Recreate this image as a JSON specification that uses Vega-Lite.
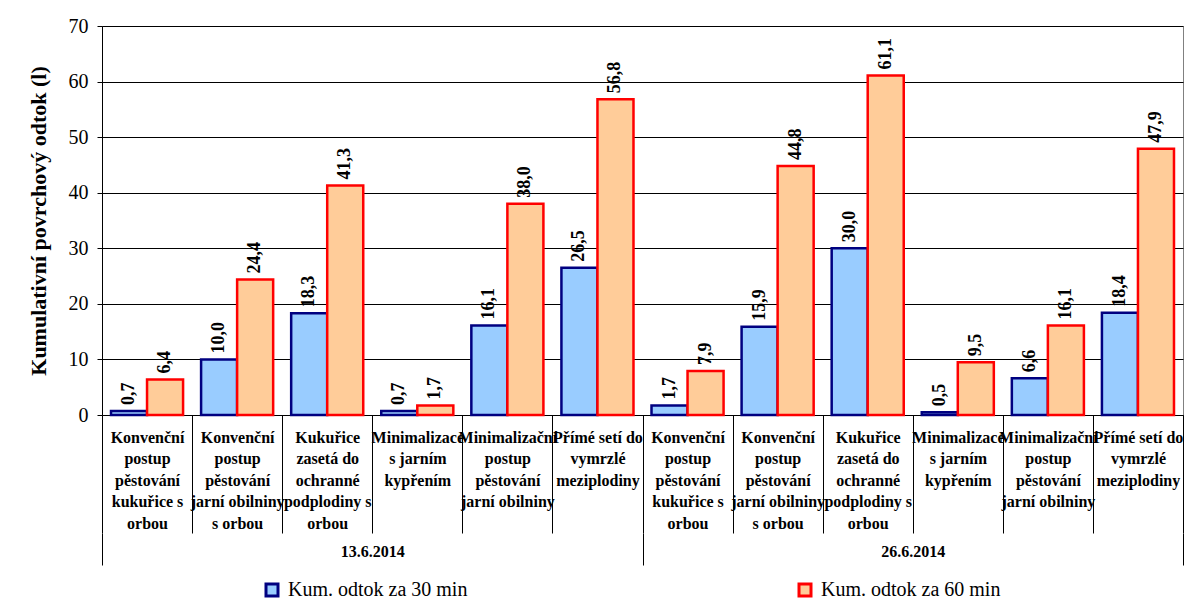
{
  "$schema": "https://vega.github.io/schema/vega-lite/v6.json",
  "width": 1081,
  "height": 389,
  "autosize": {"type": "none"},
  "padding": {"left": 102, "top": 26, "right": 11, "bottom": 189},
  "background": "white",
  "config": {
    "font": "Times New Roman, serif",
    "view": {"stroke": "#808080", "strokeWidth": 1},
    "locale": {"number": {"decimal": ",", "thousands": " ", "grouping": [3], "currency": ["", " Kč"]}},
    "axis": {
      "labelColor": "black",
      "titleColor": "black",
      "domainColor": "black",
      "tickColor": "black",
      "gridColor": "black",
      "labelFont": "Times New Roman, serif",
      "titleFont": "Times New Roman, serif"
    },
    "legend": {"labelFont": "Times New Roman, serif", "labelColor": "black"},
    "text": {"font": "Times New Roman, serif"}
  },
  "data": {
    "values": [
      {"termin": "13.6.2014", "kat": "13.6.2014|Konvenční\npostup\npěstování\nkukuřice s\norbou", "serie": "Kum. odtok za 30 min", "odtok": 0.7},
      {"termin": "13.6.2014", "kat": "13.6.2014|Konvenční\npostup\npěstování\nkukuřice s\norbou", "serie": "Kum. odtok za 60 min", "odtok": 6.4},
      {"termin": "13.6.2014", "kat": "13.6.2014|Konvenční\npostup\npěstování\njarní obilniny\ns orbou", "serie": "Kum. odtok za 30 min", "odtok": 10.0},
      {"termin": "13.6.2014", "kat": "13.6.2014|Konvenční\npostup\npěstování\njarní obilniny\ns orbou", "serie": "Kum. odtok za 60 min", "odtok": 24.4},
      {"termin": "13.6.2014", "kat": "13.6.2014|Kukuřice\nzasetá do\nochranné\npodplodiny s\norbou", "serie": "Kum. odtok za 30 min", "odtok": 18.3},
      {"termin": "13.6.2014", "kat": "13.6.2014|Kukuřice\nzasetá do\nochranné\npodplodiny s\norbou", "serie": "Kum. odtok za 60 min", "odtok": 41.3},
      {"termin": "13.6.2014", "kat": "13.6.2014|Minimalizace\ns jarním\nkypřením", "serie": "Kum. odtok za 30 min", "odtok": 0.7},
      {"termin": "13.6.2014", "kat": "13.6.2014|Minimalizace\ns jarním\nkypřením", "serie": "Kum. odtok za 60 min", "odtok": 1.7},
      {"termin": "13.6.2014", "kat": "13.6.2014|Minimalizační\npostup\npěstování\njarní obilniny", "serie": "Kum. odtok za 30 min", "odtok": 16.1},
      {"termin": "13.6.2014", "kat": "13.6.2014|Minimalizační\npostup\npěstování\njarní obilniny", "serie": "Kum. odtok za 60 min", "odtok": 38.0},
      {"termin": "13.6.2014", "kat": "13.6.2014|Přímé setí do\nvymrzlé\nmeziplodiny", "serie": "Kum. odtok za 30 min", "odtok": 26.5},
      {"termin": "13.6.2014", "kat": "13.6.2014|Přímé setí do\nvymrzlé\nmeziplodiny", "serie": "Kum. odtok za 60 min", "odtok": 56.8},
      {"termin": "26.6.2014", "kat": "26.6.2014|Konvenční\npostup\npěstování\nkukuřice s\norbou", "serie": "Kum. odtok za 30 min", "odtok": 1.7},
      {"termin": "26.6.2014", "kat": "26.6.2014|Konvenční\npostup\npěstování\nkukuřice s\norbou", "serie": "Kum. odtok za 60 min", "odtok": 7.9},
      {"termin": "26.6.2014", "kat": "26.6.2014|Konvenční\npostup\npěstování\njarní obilniny\ns orbou", "serie": "Kum. odtok za 30 min", "odtok": 15.9},
      {"termin": "26.6.2014", "kat": "26.6.2014|Konvenční\npostup\npěstování\njarní obilniny\ns orbou", "serie": "Kum. odtok za 60 min", "odtok": 44.8},
      {"termin": "26.6.2014", "kat": "26.6.2014|Kukuřice\nzasetá do\nochranné\npodplodiny s\norbou", "serie": "Kum. odtok za 30 min", "odtok": 30.0},
      {"termin": "26.6.2014", "kat": "26.6.2014|Kukuřice\nzasetá do\nochranné\npodplodiny s\norbou", "serie": "Kum. odtok za 60 min", "odtok": 61.1},
      {"termin": "26.6.2014", "kat": "26.6.2014|Minimalizace\ns jarním\nkypřením", "serie": "Kum. odtok za 30 min", "odtok": 0.5},
      {"termin": "26.6.2014", "kat": "26.6.2014|Minimalizace\ns jarním\nkypřením", "serie": "Kum. odtok za 60 min", "odtok": 9.5},
      {"termin": "26.6.2014", "kat": "26.6.2014|Minimalizační\npostup\npěstování\njarní obilniny", "serie": "Kum. odtok za 30 min", "odtok": 6.6},
      {"termin": "26.6.2014", "kat": "26.6.2014|Minimalizační\npostup\npěstování\njarní obilniny", "serie": "Kum. odtok za 60 min", "odtok": 16.1},
      {"termin": "26.6.2014", "kat": "26.6.2014|Přímé setí do\nvymrzlé\nmeziplodiny", "serie": "Kum. odtok za 30 min", "odtok": 18.4},
      {"termin": "26.6.2014", "kat": "26.6.2014|Přímé setí do\nvymrzlé\nmeziplodiny", "serie": "Kum. odtok za 60 min", "odtok": 47.9}
    ]
  },
  "resolve": {"scale": {"x": "independent"}, "axis": {"x": "independent"}},
  "layer": [
    {
      "encoding": {
        "x": {
          "field": "kat",
          "type": "nominal",
          "sort": null,
          "scale": {"paddingInner": 0, "paddingOuter": 0},
          "axis": {
            "orient": "bottom",
            "title": null,
            "grid": false,
            "labelAngle": 0,
            "labelExpr": "indexof(datum.label + '', '|') < 0 ? '' : split(split(datum.label, '|')[1], '\\n')",
            "labelFontSize": 16,
            "labelFontWeight": "bold",
            "labelLineHeight": 21.5,
            "labelBaseline": "top",
            "labelPadding": -104,
            "labelOverlap": false,
            "labelBound": false,
            "labelLimit": 0,
            "tickBand": "extent",
            "tickSize": 118,
            "tickWidth": 1,
            "domainWidth": 1
          }
        },
        "xOffset": {"field": "serie", "type": "nominal", "scale": {"paddingInner": 0, "paddingOuter": 0.25}},
        "y": {
          "field": "odtok",
          "type": "quantitative",
          "scale": {"domain": [0, 70], "nice": false},
          "axis": {
            "title": "Kumulativní povrchový odtok (l)",
            "values": [0, 10, 20, 30, 40, 50, 60, 70],
            "titleFontSize": 22,
            "titleFontWeight": "bold",
            "titlePadding": 18,
            "labelFontSize": 20,
            "labelPadding": 9,
            "tickSize": 5,
            "grid": true,
            "gridWidth": 1
          }
        }
      },
      "layer": [
        {
          "mark": {"type": "bar", "strokeWidth": 2.5},
          "encoding": {
            "fill": {
              "field": "serie",
              "type": "nominal",
              "scale": {"range": ["#99CCFF", "#FFCC99"]},
              "legend": {
                "title": null,
                "orient": "none",
                "legendX": 160,
                "legendY": 554,
                "direction": "horizontal",
                "columns": 2,
                "columnPadding": 325,
                "padding": 0,
                "labelFontSize": 20,
                "labelOffset": 6,
                "labelLimit": 0,
                "symbolType": "square",
                "symbolSize": 144,
                "symbolStrokeWidth": 3
              }
            },
            "stroke": {
              "field": "serie",
              "type": "nominal",
              "scale": {"range": ["#000080", "#FF0000"]},
              "legend": {
                "title": null,
                "orient": "none",
                "legendX": 160,
                "legendY": 554,
                "direction": "horizontal",
                "columns": 2,
                "columnPadding": 325,
                "padding": 0,
                "labelFontSize": 20,
                "labelOffset": 6,
                "labelLimit": 0,
                "symbolType": "square",
                "symbolSize": 144,
                "symbolStrokeWidth": 3
              }
            }
          }
        },
        {
          "mark": {"type": "text", "angle": 270, "align": "left", "baseline": "middle", "dx": 6, "fontSize": 18, "fontWeight": "bold", "color": "black"},
          "encoding": {
            "text": {"field": "odtok", "type": "quantitative", "format": ".1f"}
          }
        }
      ]
    },
    {
      "mark": {"type": "rule", "strokeOpacity": 0},
      "encoding": {
        "x": {
          "field": "termin",
          "type": "nominal",
          "sort": null,
          "scale": {"paddingInner": 0, "paddingOuter": 0},
          "axis": {
            "orient": "bottom",
            "offset": 118,
            "title": null,
            "grid": false,
            "domain": false,
            "labelAngle": 0,
            "labelFontSize": 16,
            "labelFontWeight": "bold",
            "labelBaseline": "top",
            "labelPadding": -22,
            "tickBand": "extent",
            "tickSize": 32,
            "tickWidth": 1
          }
        }
      }
    }
  ]
}
